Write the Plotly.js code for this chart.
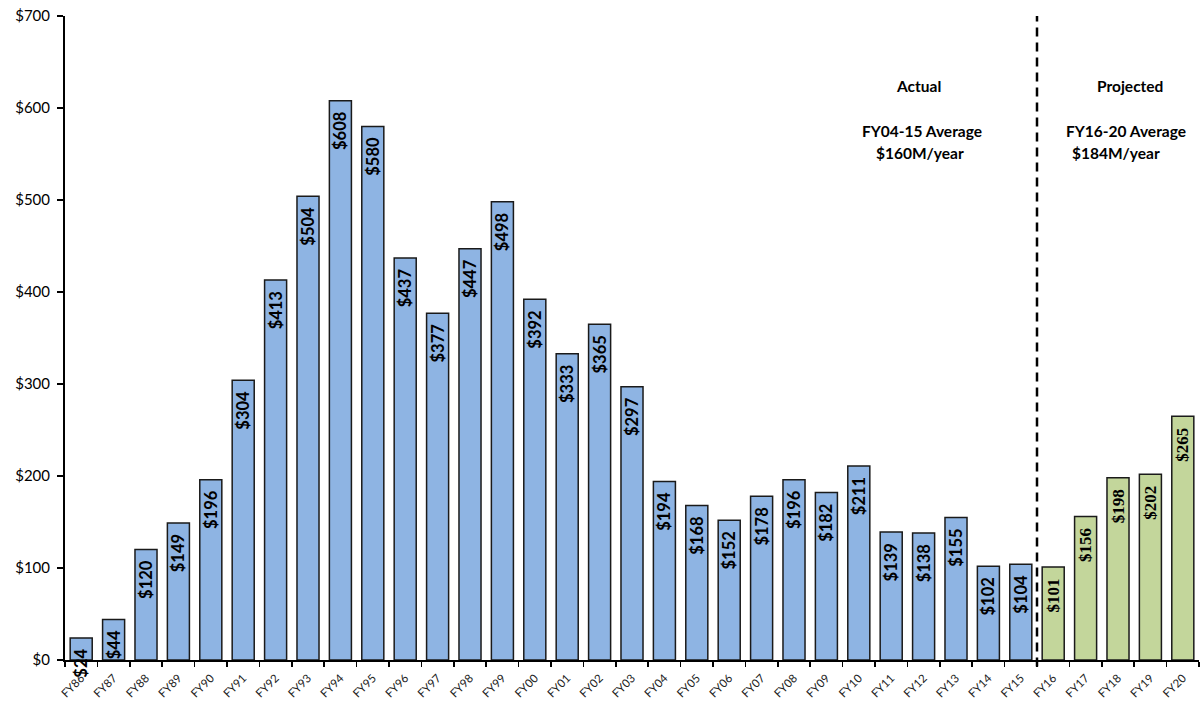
<!DOCTYPE html>
<html>
<head>
<meta charset="utf-8">
<script src="https://cdn.plot.ly/plotly-3.0.1.min.js"></script>
<style>html,body{margin:0;padding:0;background:#fff;}#chart{width:1203px;height:702px;}</style>
</head>
<body>
<div id="chart"></div>
<script>
const actualYears = ["FY86","FY87","FY88","FY89","FY90","FY91","FY92","FY93","FY94","FY95","FY96","FY97","FY98","FY99","FY00","FY01","FY02","FY03","FY04","FY05","FY06","FY07","FY08","FY09","FY10","FY11","FY12","FY13","FY14","FY15"];
const actualValues = [24,44,120,149,196,304,413,504,608,580,437,377,447,498,392,333,365,297,194,168,152,178,196,182,211,139,138,155,102,104];
const projectedYears = ["FY16","FY17","FY18","FY19","FY20"];
const projectedValues = [101,156,198,202,265];
const yTicks = [0,100,200,300,400,500,600,700];
const yTickLabels = ["$0","$100","$200","$300","$400","$500","$600","$700"];

const allYears = actualYears.concat(projectedYears);
const pad = '\u00a0\u00a0';

const actual = {
  type: 'bar', x: actualYears, y: actualValues,
  text: actualValues.map(v => '$' + v + pad),
  textposition: 'inside', insidetextanchor: 'end', textangle: -90,
  constraintext: 'none', cliponaxis: false,
  textfont: {family: 'Lato, "Open Sans", sans-serif', size: 16.5, color: '#000', weight: 'bold'},
  marker: {color: '#8EB4E3', line: {color: '#1a1a1a', width: 1.5}},
  hoverinfo: 'x+y'
};
const projected = {
  type: 'bar', x: projectedYears, y: projectedValues,
  text: projectedValues.map(v => '$' + v + pad),
  textposition: 'inside', insidetextanchor: 'end', textangle: -90,
  constraintext: 'none', cliponaxis: false,
  textfont: {family: '"Liberation Serif", "Times New Roman", serif', size: 17, color: '#000', weight: 'bold'},
  marker: {color: '#C3D69B', line: {color: '#1a1a1a', width: 1.5}},
  hoverinfo: 'x+y'
};

const annFont = {family: 'Lato, "Open Sans", sans-serif', size: 15.5, color: '#000', weight: 'bold'};
const layout = {
  width: 1203, height: 702,
  margin: {l: 65, r: 4, t: 16, b: 42},
  paper_bgcolor: '#fff', plot_bgcolor: '#fff',
  barmode: 'overlay', bargap: 0.32,
  showlegend: false,
  xaxis: {
    type: 'category', categoryorder: 'array', categoryarray: allYears,
    tickangle: -45, tickfont: {family: 'Lato, "Open Sans", sans-serif', size: 11.5, color: '#222'},
    ticklabelstandoff: 5,
    showline: true, linecolor: '#000', linewidth: 2,
    ticks: 'outside', tickson: 'boundaries', ticklen: 5, tickcolor: '#000', tickwidth: 1.5,
    showgrid: false, zeroline: false, range: [-0.5, 34.5]
  },
  yaxis: {
    range: [0, 700], tickvals: yTicks, ticktext: yTickLabels,
    tickfont: {family: 'Lato, "Open Sans", sans-serif', size: 15, color: '#000'},
    ticklabelstandoff: 4,
    showline: true, linecolor: '#000', linewidth: 2,
    ticks: 'outside', ticklen: 6, tickcolor: '#000', tickwidth: 1.5,
    showgrid: false, zeroline: false
  },
  shapes: [{
    type: 'line', xref: 'x', yref: 'paper', x0: 29.5, x1: 29.5, y0: -0.01, y1: 1,
    line: {color: '#000', width: 2.5, dash: '9px,6px'}
  }],
  annotations: [
    {xref: 'x', yref: 'paper', x: 25.84, y: 0.891, text: 'Actual'},
    {xref: 'x', yref: 'paper', x: 25.94, y: 0.821, text: 'FY04-15 Average'},
    {xref: 'x', yref: 'paper', x: 25.9, y: 0.787, text: '$160M/year'},
    {xref: 'x', yref: 'paper', x: 32.37, y: 0.891, text: 'Projected'},
    {xref: 'x', yref: 'paper', x: 32.25, y: 0.821, text: 'FY16-20 Average'},
    {xref: 'x', yref: 'paper', x: 31.95, y: 0.787, text: '$184M/year'}
  ].map(a => Object.assign(a, {showarrow: false, xanchor: 'center', yanchor: 'middle', font: annFont}))
};

Plotly.newPlot('chart', [actual, projected], layout, {displayModeBar: false, staticPlot: true});
</script>
</body>
</html>
